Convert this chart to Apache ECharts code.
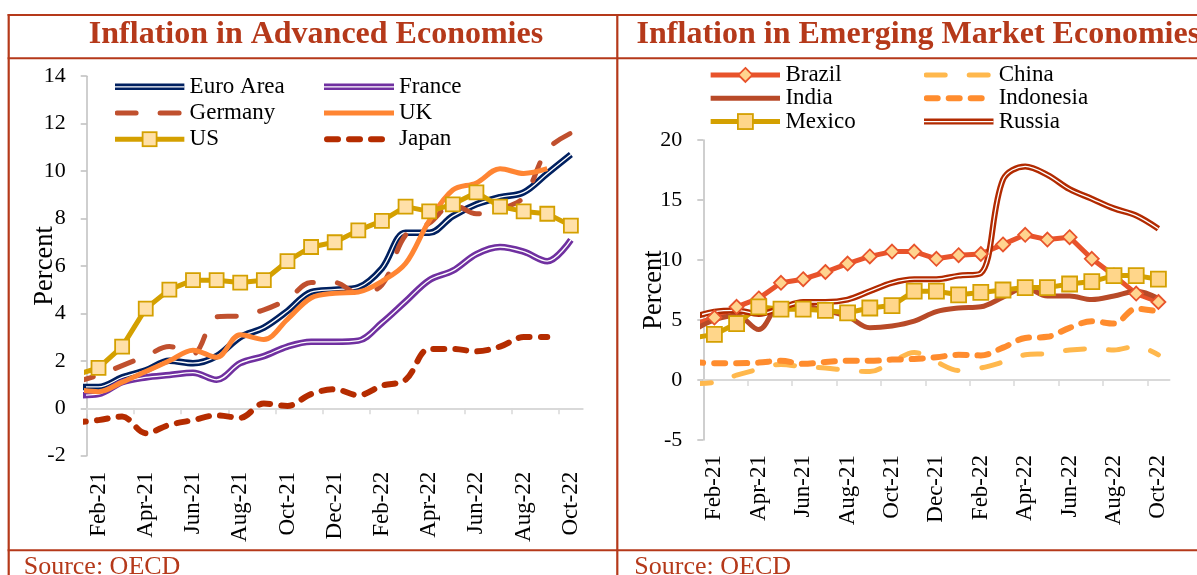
<!DOCTYPE html>
<html>
<head>
<meta charset="utf-8">
<script src="https://cdn.jsdelivr.net/npm/echarts@6/dist/echarts.min.js"></script>
<style>
html,body{margin:0;padding:0;background:#fff;}
#chart{width:1197px;height:575px;}
</style>
</head>
<body>
<div id="chart"></div>
<script>
// ---------- DATA (Jan-21 .. Oct-22; Jan-21 lies just left of the plot and is clipped) ----------
const months = ['Jan-21','Feb-21','Mar-21','Apr-21','May-21','Jun-21','Jul-21','Aug-21','Sep-21','Oct-21','Nov-21','Dec-21',
                'Jan-22','Feb-22','Mar-22','Apr-22','May-22','Jun-22','Jul-22','Aug-22','Sep-22','Oct-22'];
const axisMonths = months.slice(1); // Feb-21 .. Oct-22 shown on the axes

// Advanced economies
const euroArea = [0.9,0.9,1.3,1.6,2.0,1.9,2.2,3.0,3.4,4.1,4.9,5.0,5.1,5.9,7.4,7.4,8.1,8.6,8.9,9.1,9.9,10.7];
const france   = [0.55,0.6,1.1,1.3,1.4,1.5,1.2,1.9,2.2,2.6,2.8,2.8,2.85,3.6,4.5,5.4,5.8,6.5,6.8,6.6,6.2,7.1];
const germany  = [1.1,1.4,1.8,2.2,2.6,2.3,3.85,3.9,4.15,4.6,5.3,5.3,4.85,5.2,7.3,7.8,8.6,8.2,8.4,8.9,10.9,11.6];
const uk       = [0.8,0.7,1.1,1.55,2.0,2.45,2.15,3.1,2.9,3.75,4.65,4.85,4.9,5.35,6.1,7.9,9.2,9.5,10.1,9.9,10.1,null];
const us       = [1.4,1.7,2.6,4.2,5.0,5.4,5.4,5.3,5.4,6.2,6.8,7.0,7.5,7.9,8.5,8.3,8.6,9.1,8.5,8.3,8.2,7.7];
const japan    = [-0.6,-0.5,-0.35,-1.05,-0.7,-0.5,-0.3,-0.4,0.2,0.1,0.6,0.8,0.55,0.95,1.2,2.5,2.5,2.4,2.6,3.0,3.0,null];

// Emerging market economies
const brazil    = [4.6,5.2,6.1,6.8,8.1,8.4,9.0,9.7,10.3,10.7,10.7,10.1,10.4,10.5,11.3,12.1,11.7,11.9,10.1,8.7,7.2,6.5];
const china     = [-0.3,-0.2,0.4,0.9,1.3,1.1,1.0,0.8,0.7,1.5,2.3,1.5,0.8,1.0,1.5,2.1,2.2,2.5,2.6,2.5,2.8,2.1];
const india     = [4.1,5.0,5.4,4.2,6.3,6.2,5.8,5.3,4.35,4.5,4.9,5.7,6.0,6.1,6.9,7.7,7.0,7.0,6.7,7.0,7.4,6.8];
const indonesia = [1.5,1.4,1.4,1.45,1.6,1.35,1.5,1.6,1.6,1.7,1.75,1.9,2.1,2.05,2.7,3.5,3.6,4.35,4.9,4.7,5.95,5.7];
const mexico    = [3.5,3.8,4.7,6.1,5.9,5.9,5.8,5.6,6.0,6.2,7.4,7.4,7.1,7.3,7.5,7.7,7.7,8.0,8.2,8.7,8.7,8.4];
const russia    = [5.2,5.7,5.8,5.5,6.0,6.5,6.5,6.7,7.4,8.1,8.4,8.4,8.7,8.9,16.7,17.8,17.1,15.9,15.1,14.3,13.7,12.6];

const leftTicks  = [-2,0,2,4,6,8,10,12,14];
const rightTicks = [-5,0,5,10,15,20];

// ---------- STYLES ----------
const FONT = "'Liberation Serif','Times New Roman',serif";
const RED = '#B5391A';

const styles = {
  'Euro Area': {color:'#002060', width:6.5, inner:1.3},
  'France':    {color:'#7030A0', width:6.5, inner:1.3},
  'Germany':   {color:'#C0502E', width:5, dash:[19,24]},
  'UK':        {color:'#FF8533', width:5},
  'US':        {color:'#D4A000', width:5, symbol:'rect', symbolSize:14, fill:'#FFE0A8'},
  'Japan':     {color:'#B52C00', width:6, dash:[11,11]},
  'Brazil':    {color:'#E8532B', width:5, symbol:'diamond', symbolSize:14, fill:'#FFD48F'},
  'China':     {color:'#FFB84D', width:5, dash:[19,24]},
  'India':     {color:'#B84A28', width:5},
  'Indonesia': {color:'#FF8C2E', width:6, dash:[11,11]},
  'Mexico':    {color:'#D4A000', width:5, symbol:'rect', symbolSize:15, fill:'#FFD68A'},
  'Russia':    {color:'#B22A00', width:6, inner:1.3}
};

function makeSeries(name, values, gridIdx) {
  const st = styles[name];
  const data = [];
  values.forEach((v, i) => {
    if (v === null || v === undefined) return;
    const item = {value: [i - 0.5, v]};
    if (i === 0) item.symbol = 'none';
    data.push(item);
  });
  const base = {
    type: 'line', name: name,
    xAxisIndex: gridIdx * 2, yAxisIndex: gridIdx,
    data: data,
    smooth: st.symbol ? false : 0.35,
    showSymbol: !!st.symbol,
    symbol: st.symbol || 'none',
    symbolSize: st.symbolSize || 0,
    itemStyle: st.symbol ? {color: st.fill, borderColor: st.color, borderWidth: 1.8} : {color: st.color},
    lineStyle: {color: st.color, width: st.width, type: st.dash || 'solid', cap: st.dash ? 'round' : 'butt', join: 'round'},
    clip: true, silent: true, animation: false
  };
  const out = [base];
  if (st.inner) {
    out.push(Object.assign({}, base, {
      name: name + ' inner',
      showSymbol: false, symbol: 'none',
      lineStyle: {color: '#ffffff', width: st.inner}
    }));
  }
  return out;
}

function legendIcon(name) {
  const st = styles[name];
  const W = 70, H = 18, cy = 9;
  let s = '';
  const x1 = st.dash ? st.width / 2 : 0;
  const x2 = st.dash ? W - st.width / 2 : W;
  s += '<line x1="' + x1 + '" y1="' + cy + '" x2="' + x2 + '" y2="' + cy + '" stroke="' + st.color +
       '" stroke-width="' + st.width + '" stroke-linecap="' + (st.dash ? 'round' : 'butt') + '"' +
       (st.dash ? ' stroke-dasharray="' + st.dash.join(' ') + '"' : '') + '/>';
  if (st.inner) {
    s += '<line x1="0" y1="' + cy + '" x2="' + W + '" y2="' + cy + '" stroke="#ffffff" stroke-width="' + st.inner + '"/>';
  }
  if (st.symbol === 'rect') {
    const a = st.symbolSize;
    s += '<rect x="' + ((W - a) / 2) + '" y="' + (cy - a / 2) + '" width="' + a + '" height="' + a +
         '" fill="' + st.fill + '" stroke="' + st.color + '" stroke-width="1.8"/>';
  } else if (st.symbol === 'diamond') {
    const a = st.symbolSize / 2, c = W / 2;
    s += '<polygon points="' + c + ',' + (cy - a) + ' ' + (c + a) + ',' + cy + ' ' + c + ',' + (cy + a) + ' ' + (c - a) + ',' + cy +
         '" fill="' + st.fill + '" stroke="' + st.color + '" stroke-width="1.8"/>';
  }
  const svg = '<svg xmlns="http://www.w3.org/2000/svg" width="' + W + '" height="' + H + '" viewBox="0 0 ' + W + ' ' + H + '">' + s + '</svg>';
  return 'image://data:image/svg+xml;charset=utf-8,' + encodeURIComponent(svg);
}

function makeLegend(names, left, top, lineH) {
  return {
    orient: 'vertical', left: left, top: top,
    itemWidth: 70, itemHeight: 18, itemGap: 0, padding: 0,
    symbolKeepAspect: false, selectedMode: false,
    textStyle: {fontFamily: FONT, fontSize: 23, color: '#000', lineHeight: lineH},
    data: names.map(n => ({name: n, icon: legendIcon(n)}))
  };
}

function valueXAxis(gridIdx) {
  return {
    type: 'value', gridIndex: gridIdx, min: 0, max: 21, interval: 2, position: 'bottom',
    axisLine: {show: true, onZero: true, lineStyle: {color: '#D9D9D9', width: 2}},
    axisTick: {show: true, length: 6, lineStyle: {color: '#D9D9D9', width: 1.5},
               customValues: [0,2,4,6,8,10,12,14,16,18,20]},
    axisLabel: {show: false}, splitLine: {show: false}
  };
}
function labelXAxis(gridIdx, margin) {
  return {
    type: 'category', gridIndex: gridIdx, data: axisMonths, boundaryGap: true, position: 'bottom',
    axisLine: {show: false, onZero: false}, axisTick: {show: false}, splitLine: {show: false},
    axisLabel: {interval: 1, rotate: 90, margin: margin, fontFamily: FONT, fontSize: 23, color: '#000'}
  };
}
function yAxisCfg(gridIdx, ticks, nameGap) {
  return {
    type: 'value', gridIndex: gridIdx,
    min: ticks[0], max: ticks[ticks.length - 1], interval: ticks[1] - ticks[0],
    name: 'Percent', nameLocation: 'middle', nameGap: nameGap, nameMoveOverlap: false,
    nameTextStyle: {fontFamily: FONT, fontSize: 26.5, color: '#000'},
    axisLine: {show: true, lineStyle: {color: '#BFBFBF', width: 1.5}},
    axisTick: {show: true, length: 6, lineStyle: {color: '#BFBFBF', width: 1.5}},
    axisLabel: {margin: 21, fontFamily: FONT, fontSize: 22, color: '#000'},
    splitLine: {show: false}
  };
}

const series = [].concat(
  makeSeries('Euro Area', euroArea, 0),
  makeSeries('France', france, 0),
  makeSeries('Germany', germany, 0),
  makeSeries('UK', uk, 0),
  makeSeries('US', us, 0),
  makeSeries('Japan', japan, 0),
  makeSeries('Brazil', brazil, 1),
  makeSeries('China', china, 1),
  makeSeries('India', india, 1),
  makeSeries('Indonesia', indonesia, 1),
  makeSeries('Mexico', mexico, 1),
  makeSeries('Russia', russia, 1)
);

function hLine(x1, x2, y) {
  return {type: 'line', silent: true, shape: {x1: x1, y1: y, x2: x2, y2: y}, style: {stroke: RED, lineWidth: 2}};
}
function vLine(x, y1, y2) {
  return {type: 'line', silent: true, shape: {x1: x, y1: y1, x2: x, y2: y2}, style: {stroke: RED, lineWidth: 2.2}};
}
function txt(str, x, baseline, size, bold, align) {
  return {type: 'text', silent: true,
    style: {text: str, x: x, y: baseline - 0.33 * size, fill: RED,
            font: (bold ? 'bold ' : '') + size + 'px ' + FONT,
            textAlign: align, textVerticalAlign: 'middle', verticalAlign: 'middle'}};
}

const chart = echarts.init(document.getElementById('chart'), null, {renderer: 'canvas', width: 1197, height: 575});
chart.setOption({
  animation: false,
  backgroundColor: '#ffffff',
  grid: [
    {left: 86.7, top: 76.2, width: 496, height: 379.5, containLabel: false},
    {left: 703.3, top: 140, width: 466.2, height: 300, containLabel: false}
  ],
  xAxis: [valueXAxis(0), labelXAxis(0, 16), valueXAxis(1), labelXAxis(1, 15)],
  yAxis: [yAxisCfg(0, leftTicks, 28.6), yAxisCfg(1, rightTicks, 35.6)],
  legend: [
    makeLegend(['Euro Area', 'Germany', 'US'], 114.6, 73.7, 26.2),
    makeLegend(['France', 'UK', 'Japan'], 324, 73.7, 26.2),
    makeLegend(['Brazil', 'India', 'Mexico'], 710.4, 63.3, 23.3),
    makeLegend(['China', 'Indonesia', 'Russia'], 923.7, 63.3, 23.3)
  ],
  graphic: [
    hLine(7.6, 1197, 15),
    hLine(7.6, 1197, 58.3),
    hLine(7.6, 1197, 550.3),
    vLine(8.7, 14, 575),
    vLine(617.3, 14, 575),
    txt('Inflation in Advanced Economies', 316, 45, 32, true, 'center'),
    txt('Inflation in Emerging Market Economies', 636.6, 45, 32, true, 'left'),
    txt('Source: OECD', 23.7, 575.5, 26, false, 'left'),
    txt('Source: OECD', 634.3, 575.5, 26, false, 'left')
  ],
  series: series
});
</script>
</body>
</html>
